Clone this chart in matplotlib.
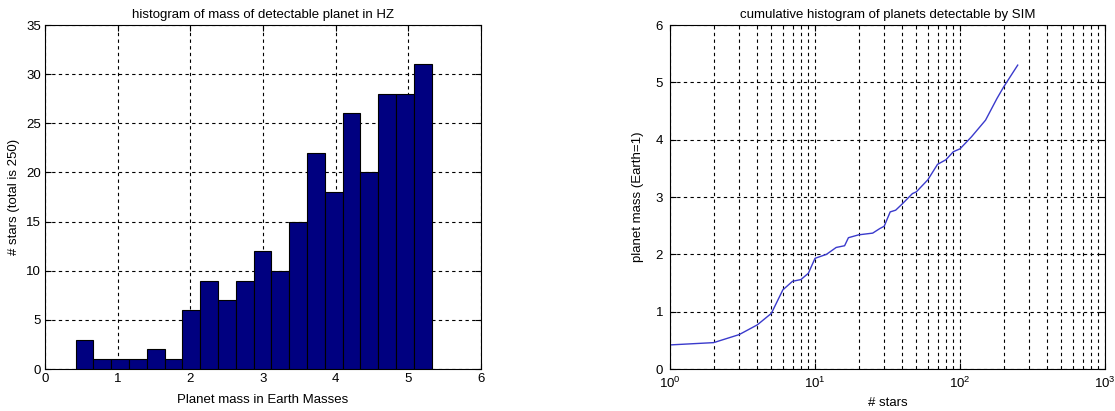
import numpy as np
import matplotlib
matplotlib.use("Agg")
import matplotlib.pyplot as plt

# histogram counts (20 bins)
bin_edges = np.linspace(0.42, 5.32, 21)
counts = [3, 1, 1, 1, 2, 1, 6, 9, 7, 9, 12, 10, 15, 22, 18, 26, 20, 28, 28, 31]

# sorted planet mass vs number of stars
n_stars = [1, 2, 3, 4, 5, 6, 7, 8, 9, 10, 12, 14, 16, 17, 20, 25, 28, 30, 33, 36,
           40, 47, 50, 60, 70, 80, 90, 100, 120, 150, 180, 200, 250]
mass = [0.42, 0.46, 0.60, 0.77, 0.97, 1.38, 1.53, 1.56, 1.67, 1.93, 2.00, 2.12,
        2.15, 2.29, 2.34, 2.37, 2.45, 2.49, 2.74, 2.77, 2.88, 3.06, 3.09, 3.30,
        3.57, 3.65, 3.79, 3.84, 4.05, 4.34, 4.72, 4.92, 5.30]

plt.rcParams["font.family"] = ["Liberation Sans", "DejaVu Sans"]
plt.rcParams["font.size"] = 9.5
grid_style = dict(color="black", linestyle=(0, (3, 3)), linewidth=0.8)

fig = plt.figure(figsize=(11.15, 4.11), dpi=100)
ax1 = fig.add_axes([45 / 1115, 42 / 411, 436 / 1115, 344 / 411])
ax2 = fig.add_axes([670 / 1115, 42 / 411, 435 / 1115, 344 / 411])

ax1.hist(bin_edges[:-1], bins=bin_edges, weights=counts,
         color="#000080", edgecolor="black", linewidth=0.8, zorder=3)
ax1.set_xlim(0, 6)
ax1.set_ylim(0, 35)
ax1.set_xticks(range(0, 7))
ax1.set_yticks(range(0, 36, 5))
ax1.grid(True, **grid_style)
ax1.set_axisbelow(True)
ax1.set_title("histogram of mass of detectable planet in HZ", fontsize=9.5, pad=5)
ax1.set_xlabel("Planet mass in Earth Masses", labelpad=6)
ax1.set_ylabel("# stars (total is 250)", labelpad=4)

ax2.plot(n_stars, mass, color="#3a3acc", linewidth=1.0)
ax2.set_xscale("log")
ax2.set_xlim(1, 1000)
ax2.set_ylim(0, 6)
ax2.grid(True, which="both", **grid_style)
ax2.set_title("cumulative histogram of planets detectable by SIM", fontsize=9.5, pad=5)
ax2.set_xlabel("# stars", labelpad=4)
ax2.set_ylabel("planet mass (Earth=1)", labelpad=8)

for ax in (ax1, ax2):
    ax.tick_params(direction="in", top=True, right=True, length=4, pad=3)
    ax.tick_params(which="minor", direction="in", top=True, right=True, length=2)
    for s in ax.spines.values():
        s.set_linewidth(0.8)
ax2.tick_params(axis="x", pad=5)
ax2.tick_params(axis="y", pad=5)

fig.savefig("out.png", dpi=100)
